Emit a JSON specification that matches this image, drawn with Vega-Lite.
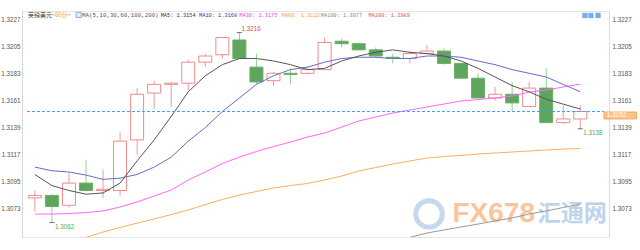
{
  "$schema": "https://vega.github.io/schema/vega-lite/v6.json",
  "width": 587,
  "height": 226,
  "autosize": {"type": "none"},
  "padding": {"left": 22, "top": 11, "right": 31, "bottom": 13},
  "background": "#ffffff",
  "config": {"view": {"stroke": "#e4e4e4"}, "font": "Liberation Sans"},
  "datasets": {
    "candles": [
      {"i": 1, "o": 1.3082, "h": 1.3088, "l": 1.3071, "c": 1.3084, "ma5": 1.3101, "ma10": 1.3107, "ma30": 1.30689, "ma60": null, "ma100": null},
      {"i": 2, "o": 1.3084, "h": 1.3085, "l": 1.3062, "c": 1.3075, "ma5": 1.3092, "ma10": 1.3104, "ma30": 1.30689, "ma60": null, "ma100": null},
      {"i": 3, "o": 1.3076, "h": 1.3102, "l": 1.3074, "c": 1.3094, "ma5": 1.3088, "ma10": 1.3103, "ma30": 1.30693, "ma60": null, "ma100": null},
      {"i": 4, "o": 1.3094, "h": 1.3113, "l": 1.3087, "c": 1.3088, "ma5": 1.3085, "ma10": 1.31005, "ma30": 1.30701, "ma60": 1.3050, "ma100": null},
      {"i": 5, "o": 1.3088, "h": 1.3105, "l": 1.3082, "c": 1.3089, "ma5": 1.3086, "ma10": 1.3097, "ma30": 1.30714, "ma60": 1.30543, "ma100": null},
      {"i": 6, "o": 1.3088, "h": 1.3135, "l": 1.3084, "c": 1.3128, "ma5": 1.3094, "ma10": 1.3098, "ma30": 1.30746, "ma60": 1.3058, "ma100": null},
      {"i": 7, "o": 1.3129, "h": 1.3171, "l": 1.3117, "c": 1.3166, "ma5": 1.3112, "ma10": 1.3101, "ma30": 1.30787, "ma60": 1.30616, "ma100": null},
      {"i": 8, "o": 1.3167, "h": 1.3177, "l": 1.3154, "c": 1.3174, "ma5": 1.3129, "ma10": 1.3107, "ma30": 1.30835, "ma60": 1.30649, "ma100": null},
      {"i": 9, "o": 1.3174, "h": 1.3176, "l": 1.3156, "c": 1.3175, "ma5": 1.3148, "ma10": 1.3115, "ma30": 1.30884, "ma60": 1.30685, "ma100": null},
      {"i": 10, "o": 1.3175, "h": 1.3194, "l": 1.3169, "c": 1.3192, "ma5": 1.3168, "ma10": 1.3128, "ma30": 1.30965, "ma60": 1.30722, "ma100": null},
      {"i": 11, "o": 1.3192, "h": 1.3199, "l": 1.3188, "c": 1.3197, "ma5": 1.3181, "ma10": 1.3139, "ma30": 1.3103, "ma60": 1.30766, "ma100": null},
      {"i": 12, "o": 1.3198, "h": 1.3212, "l": 1.3195, "c": 1.3212, "ma5": 1.3190, "ma10": 1.3152, "ma30": 1.31099, "ma60": 1.30807, "ma100": null},
      {"i": 13, "o": 1.3210, "h": 1.3216, "l": 1.3195, "c": 1.3195, "ma5": 1.3195, "ma10": 1.3163, "ma30": 1.31151, "ma60": 1.30843, "ma100": null},
      {"i": 14, "o": 1.3188, "h": 1.3199, "l": 1.3174, "c": 1.3176, "ma5": 1.3195, "ma10": 1.3174, "ma30": 1.31196, "ma60": 1.30872, "ma100": null},
      {"i": 15, "o": 1.3177, "h": 1.3184, "l": 1.3173, "c": 1.3183, "ma5": 1.3193, "ma10": 1.3181, "ma30": 1.31236, "ma60": 1.309, "ma100": null},
      {"i": 16, "o": 1.3183, "h": 1.3187, "l": 1.3174, "c": 1.3182, "ma5": 1.3190, "ma10": 1.3186, "ma30": 1.31273, "ma60": 1.3092, "ma100": null},
      {"i": 17, "o": 1.3183, "h": 1.3188, "l": 1.3182, "c": 1.3186, "ma5": 1.3186, "ma10": 1.3188, "ma30": 1.31313, "ma60": 1.30937, "ma100": null},
      {"i": 18, "o": 1.3186, "h": 1.3212, "l": 1.3186, "c": 1.3208, "ma5": 1.3187, "ma10": 1.3192, "ma30": 1.31346, "ma60": 1.30965, "ma100": null},
      {"i": 19, "o": 1.3209, "h": 1.3211, "l": 1.3204, "c": 1.3207, "ma5": 1.3193, "ma10": 1.3195, "ma30": 1.31394, "ma60": 1.30997, "ma100": null},
      {"i": 20, "o": 1.3207, "h": 1.3208, "l": 1.3202, "c": 1.3202, "ma5": 1.3197, "ma10": 1.3196, "ma30": 1.31443, "ma60": 1.31038, "ma100": null},
      {"i": 21, "o": 1.3202, "h": 1.3204, "l": 1.3196, "c": 1.3197, "ma5": 1.3200, "ma10": 1.3196, "ma30": 1.31476, "ma60": 1.31066, "ma100": null},
      {"i": 22, "o": 1.3196, "h": 1.3199, "l": 1.3191, "c": 1.3195, "ma5": 1.3202, "ma10": 1.3195, "ma30": 1.31508, "ma60": 1.31095, "ma100": null},
      {"i": 23, "o": 1.3195, "h": 1.3201, "l": 1.3191, "c": 1.3199, "ma5": 1.3200, "ma10": 1.3195, "ma30": 1.31532, "ma60": 1.31119, "ma100": 1.3050},
      {"i": 24, "o": 1.3199, "h": 1.3206, "l": 1.3199, "c": 1.3201, "ma5": 1.3199, "ma10": 1.3197, "ma30": 1.31557, "ma60": 1.31143, "ma100": 1.30535},
      {"i": 25, "o": 1.3201, "h": 1.3203, "l": 1.3190, "c": 1.3191, "ma5": 1.3197, "ma10": 1.3197, "ma30": 1.31581, "ma60": 1.31155, "ma100": 1.3056},
      {"i": 26, "o": 1.3191, "h": 1.3191, "l": 1.3179, "c": 1.3179, "ma5": 1.3193, "ma10": 1.3196, "ma30": 1.31605, "ma60": 1.31164, "ma100": 1.30584},
      {"i": 27, "o": 1.3179, "h": 1.3183, "l": 1.3163, "c": 1.3163, "ma5": 1.3187, "ma10": 1.3193, "ma30": 1.31617, "ma60": 1.31176, "ma100": 1.30608},
      {"i": 28, "o": 1.3163, "h": 1.3172, "l": 1.3161, "c": 1.3166, "ma5": 1.3180, "ma10": 1.3190, "ma30": 1.3163, "ma60": 1.31184, "ma100": 1.30633},
      {"i": 29, "o": 1.3166, "h": 1.3176, "l": 1.3152, "c": 1.3159, "ma5": 1.3173, "ma10": 1.3186, "ma30": 1.31646, "ma60": 1.31192, "ma100": 1.30657},
      {"i": 30, "o": 1.3156, "h": 1.3176, "l": 1.3156, "c": 1.3171, "ma5": 1.3168, "ma10": 1.3183, "ma30": 1.31678, "ma60": 1.312, "ma100": 1.30689},
      {"i": 31, "o": 1.3171, "h": 1.3187, "l": 1.3143, "c": 1.3143, "ma5": 1.3162, "ma10": 1.3180, "ma30": 1.31694, "ma60": 1.31208, "ma100": 1.30714},
      {"i": 32, "o": 1.3143, "h": 1.3157, "l": 1.3142, "c": 1.3146, "ma5": 1.3158, "ma10": 1.3174, "ma30": 1.31719, "ma60": 1.31216, "ma100": 1.30742},
      {"i": 33, "o": 1.3146, "h": 1.3157, "l": 1.3138, "c": 1.3152, "ma5": 1.3154, "ma10": 1.3168, "ma30": 1.31743, "ma60": 1.3122, "ma100": 1.3077}
    ]
  },
  "layer": [
    {
      "data": {"values": [{}]},
      "mark": {"type": "point", "shape": "circle", "size": 700, "filled": false, "strokeWidth": 5, "opacity": 0.8},
      "encoding": {
        "x": {"datum": 24.126, "type": "quantitative", "scale": {"domain": [0.54, 34.39], "nice": false, "zero": false}, "axis": null},
        "y": {"datum": 1.3069, "type": "quantitative", "scale": {"domain": [1.30503, 1.32335], "nice": false, "zero": false}, "axis": null},
        "stroke": {"value": "#b9cfea"}
      }
    },
    {
      "data": {"values": [{}]},
      "mark": {"type": "text", "text": "FX678", "align": "left", "baseline": "middle", "font": "Liberation Sans", "fontWeight": "bold", "fontSize": 28, "opacity": 0.85},
      "encoding": {
        "x": {"datum": 25.5, "type": "quantitative", "scale": {"domain": [0.54, 34.39], "nice": false, "zero": false}, "axis": null},
        "y": {"datum": 1.3069, "type": "quantitative", "scale": {"domain": [1.30503, 1.32335], "nice": false, "zero": false}, "axis": null},
        "fill": {"value": "#f7bb8c"}
      }
    },
    {
      "data": {"values": [{}]},
      "mark": {"type": "text", "text": "汇通网", "align": "left", "baseline": "middle", "font": "Noto Sans CJK SC", "fontWeight": "bold", "fontSize": 23, "opacity": 0.85},
      "encoding": {
        "x": {"datum": 30.5, "type": "quantitative", "scale": {"domain": [0.54, 34.39], "nice": false, "zero": false}, "axis": null},
        "y": {"datum": 1.3069, "type": "quantitative", "scale": {"domain": [1.30503, 1.32335], "nice": false, "zero": false}, "axis": null},
        "fill": {"value": "#b3cdea"}
      }
    },
    {
      "data": {"name": "candles"},
      "mark": {"type": "rule", "strokeWidth": 1},
      "encoding": {
        "x": {"field": "i", "type": "quantitative", "scale": {"domain": [0.54, 34.39], "nice": false, "zero": false}, "axis": null},
        "y": {"field": "l", "type": "quantitative", "scale": {"domain": [1.30503, 1.32335], "nice": false, "zero": false},
          "axis": {"orient": "left", "title": null, "values": [1.3073, 1.3095, 1.3117, 1.3139, 1.3161, 1.3183, 1.3205, 1.3227], "format": ".4f", "ticks": false, "grid": false, "labelFont": "Liberation Sans", "labelFontSize": 6.3, "labelColor": "#555555", "labelPadding": 2, "domainColor": "#cccccc", "domainDash": [2, 2]}},
        "y2": {"field": "h"},
        "stroke": {"condition": {"test": "datum.c >= datum.o", "value": "#f09a9a"}, "value": "#95cf95"}
      }
    },
    {
      "data": {"name": "candles"},
      "mark": {"type": "bar", "width": 13, "orient": "vertical", "strokeWidth": 1},
      "encoding": {
        "x": {"field": "i", "type": "quantitative", "scale": {"domain": [0.54, 34.39], "nice": false, "zero": false}, "axis": null},
        "y": {"field": "o", "type": "quantitative", "scale": {"domain": [1.30503, 1.32335], "nice": false, "zero": false},
          "axis": {"orient": "right", "title": null, "values": [1.3073, 1.3095, 1.3117, 1.3139, 1.3161, 1.3183, 1.3205, 1.3227], "format": ".4f", "ticks": false, "grid": false, "labelFont": "Liberation Sans", "labelFontSize": 6.3, "labelColor": "#555555", "labelPadding": 3, "domainColor": "#dddddd"}},
        "y2": {"field": "c"},
        "fill": {"condition": {"test": "datum.c >= datum.o", "value": "#ffffff"}, "value": "#5ea65e"},
        "stroke": {"condition": {"test": "datum.c >= datum.o", "value": "#ee8a8a"}, "value": "#68b068"}
      }
    },
    {
      "data": {"name": "candles"},
      "mark": {"type": "line", "strokeWidth": 1, "clip": true},
      "encoding": {
        "x": {"field": "i", "type": "quantitative", "scale": {"domain": [0.54, 34.39], "nice": false, "zero": false}, "axis": null},
        "y": {"field": "ma60", "type": "quantitative", "scale": {"domain": [1.30503, 1.32335], "nice": false, "zero": false}, "axis": null},
        "stroke": {"value": "#ffad60"}
      }
    },
    {
      "data": {"name": "candles"},
      "mark": {"type": "line", "strokeWidth": 1, "clip": true},
      "encoding": {
        "x": {"field": "i", "type": "quantitative", "scale": {"domain": [0.54, 34.39], "nice": false, "zero": false}, "axis": null},
        "y": {"field": "ma100", "type": "quantitative", "scale": {"domain": [1.30503, 1.32335], "nice": false, "zero": false}, "axis": null},
        "stroke": {"value": "#999999"}
      }
    },
    {
      "data": {"name": "candles"},
      "mark": {"type": "line", "strokeWidth": 1, "clip": true},
      "encoding": {
        "x": {"field": "i", "type": "quantitative", "scale": {"domain": [0.54, 34.39], "nice": false, "zero": false}, "axis": null},
        "y": {"field": "ma30", "type": "quantitative", "scale": {"domain": [1.30503, 1.32335], "nice": false, "zero": false}, "axis": null},
        "stroke": {"value": "#ff66ff"}
      }
    },
    {
      "data": {"name": "candles"},
      "mark": {"type": "line", "strokeWidth": 1, "clip": true},
      "encoding": {
        "x": {"field": "i", "type": "quantitative", "scale": {"domain": [0.54, 34.39], "nice": false, "zero": false}, "axis": null},
        "y": {"field": "ma10", "type": "quantitative", "scale": {"domain": [1.30503, 1.32335], "nice": false, "zero": false}, "axis": null},
        "stroke": {"value": "#6a6ac8"}
      }
    },
    {
      "data": {"name": "candles"},
      "mark": {"type": "line", "strokeWidth": 1, "clip": true},
      "encoding": {
        "x": {"field": "i", "type": "quantitative", "scale": {"domain": [0.54, 34.39], "nice": false, "zero": false}, "axis": null},
        "y": {"field": "ma5", "type": "quantitative", "scale": {"domain": [1.30503, 1.32335], "nice": false, "zero": false}, "axis": null},
        "stroke": {"value": "#555555"}
      }
    },
    {
      "data": {"values": [{}]},
      "mark": {"type": "rule", "strokeWidth": 1, "strokeDash": [3, 2]},
      "encoding": {
        "x": {"datum": 0.54, "type": "quantitative", "scale": {"domain": [0.54, 34.39], "nice": false, "zero": false}, "axis": null},
        "x2": {"datum": 34.39},
        "y": {"datum": 1.3152, "type": "quantitative", "scale": {"domain": [1.30503, 1.32335], "nice": false, "zero": false}, "axis": null},
        "stroke": {"value": "#3d9cff"}
      }
    },
    {
      "data": {"values": [{}]},
      "mark": {"type": "rect", "strokeWidth": 1},
      "encoding": {
        "x": {"datum": 34.39, "type": "quantitative", "scale": {"domain": [0.54, 34.39], "nice": false, "zero": false}, "axis": null},
        "x2": {"datum": 36.3},
        "y": {"datum": 1.31516, "type": "quantitative", "scale": {"domain": [1.30503, 1.32335], "nice": false, "zero": false}, "axis": null},
        "y2": {"datum": 1.3146},
        "fill": {"value": "#fcc38a"},
        "stroke": {"value": "#f6a85c"}
      }
    },
    {
      "data": {"values": [{}]},
      "mark": {"type": "text", "text": "1.3152", "align": "left", "baseline": "middle", "fontSize": 6.3},
      "encoding": {
        "x": {"datum": 34.56, "type": "quantitative", "scale": {"domain": [0.54, 34.39], "nice": false, "zero": false}, "axis": null},
        "y": {"datum": 1.31488, "type": "quantitative", "scale": {"domain": [1.30503, 1.32335], "nice": false, "zero": false}, "axis": null},
        "fill": {"value": "#ffffff"}
      }
    },
    {
      "data": {"values": [{"i": 13, "v": 1.3216, "t": "1.3216"}]},
      "encoding": {
        "x": {"field": "i", "type": "quantitative", "scale": {"domain": [0.54, 34.39], "nice": false, "zero": false}, "axis": null},
        "y": {"field": "v", "type": "quantitative", "scale": {"domain": [1.30503, 1.32335], "nice": false, "zero": false}, "axis": null}
      },
      "layer": [
        {"mark": {"type": "tick", "orient": "horizontal", "size": 5, "thickness": 1}, "encoding": {"color": {"value": "#333333"}}},
        {"mark": {"type": "text", "align": "left", "baseline": "middle", "dx": 2, "dy": -4, "fontSize": 6.3}, "encoding": {"text": {"field": "t"}, "fill": {"value": "#e05050"}}}
      ]
    },
    {
      "data": {"values": [{"i": 2, "v": 1.3062, "t": "1.3062"}, {"i": 33, "v": 1.3138, "t": "1.3138"}]},
      "encoding": {
        "x": {"field": "i", "type": "quantitative", "scale": {"domain": [0.54, 34.39], "nice": false, "zero": false}, "axis": null},
        "y": {"field": "v", "type": "quantitative", "scale": {"domain": [1.30503, 1.32335], "nice": false, "zero": false}, "axis": null}
      },
      "layer": [
        {"mark": {"type": "tick", "orient": "horizontal", "size": 5, "thickness": 1}, "encoding": {"color": {"value": "#333333"}}},
        {"mark": {"type": "text", "align": "left", "baseline": "middle", "dx": 3, "dy": 4.5, "fontSize": 6.3}, "encoding": {"text": {"field": "t"}, "fill": {"value": "#55aa55"}}}
      ]
    },
    {
      "data": {"values": [{}]},
      "mark": {"type": "text", "text": "英镑美元", "align": "left", "baseline": "middle", "font": "Noto Sans CJK SC", "fontSize": 6},
      "encoding": {"x": {"datum": 0.598, "type": "quantitative", "scale": {"domain": [0.54, 34.39], "nice": false, "zero": false}, "axis": null}, "y": {"datum": 1.32303, "type": "quantitative", "scale": {"domain": [1.30503, 1.32335], "nice": false, "zero": false}, "axis": null}, "fill": {"value": "#333333"}}
    },
    {
      "data": {"values": [{}]},
      "mark": {"type": "text", "text": "<60分>", "align": "left", "baseline": "middle", "font": "Noto Sans CJK SC", "fontSize": 6},
      "encoding": {"x": {"datum": 1.98, "type": "quantitative", "scale": {"domain": [0.54, 34.39], "nice": false, "zero": false}, "axis": null}, "y": {"datum": 1.32303, "type": "quantitative", "scale": {"domain": [1.30503, 1.32335], "nice": false, "zero": false}, "axis": null}, "fill": {"value": "#f0a030"}}
    },
    {
      "data": {"values": [{}]},
      "mark": {"type": "point", "shape": "square", "size": 26, "filled": true, "strokeWidth": 0.8},
      "encoding": {"x": {"datum": 3.568, "type": "quantitative", "scale": {"domain": [0.54, 34.39], "nice": false, "zero": false}, "axis": null}, "y": {"datum": 1.32303, "type": "quantitative", "scale": {"domain": [1.30503, 1.32335], "nice": false, "zero": false}, "axis": null}, "fill": {"value": "#dfe6ff"}, "stroke": {"value": "#4466cc"}}
    },
    {
      "data": {"values": [{}]},
      "mark": {"type": "text", "text": "MA(5,10,30,60,100,200)", "align": "left", "baseline": "middle", "font": "Liberation Mono", "fontSize": 5.8},
      "encoding": {"x": {"datum": 3.77, "type": "quantitative", "scale": {"domain": [0.54, 34.39], "nice": false, "zero": false}, "axis": null}, "y": {"datum": 1.32303, "type": "quantitative", "scale": {"domain": [1.30503, 1.32335], "nice": false, "zero": false}, "axis": null}, "fill": {"value": "#555555"}}
    },
    {
      "data": {"values": [{}]},
      "mark": {"type": "text", "text": "MA5: 1.3154", "align": "left", "baseline": "middle", "font": "Liberation Mono", "fontSize": 5.3},
      "encoding": {"x": {"datum": 8.383, "type": "quantitative", "scale": {"domain": [0.54, 34.39], "nice": false, "zero": false}, "axis": null}, "y": {"datum": 1.32303, "type": "quantitative", "scale": {"domain": [1.30503, 1.32335], "nice": false, "zero": false}, "axis": null}, "fill": {"value": "#333333"}}
    },
    {
      "data": {"values": [{}]},
      "mark": {"type": "text", "text": "MA10: 1.3168", "align": "left", "baseline": "middle", "font": "Liberation Mono", "fontSize": 5.3},
      "encoding": {"x": {"datum": 10.632, "type": "quantitative", "scale": {"domain": [0.54, 34.39], "nice": false, "zero": false}, "axis": null}, "y": {"datum": 1.32303, "type": "quantitative", "scale": {"domain": [1.30503, 1.32335], "nice": false, "zero": false}, "axis": null}, "fill": {"value": "#3333aa"}}
    },
    {
      "data": {"values": [{}]},
      "mark": {"type": "text", "text": "MA30: 1.3175", "align": "left", "baseline": "middle", "font": "Liberation Mono", "fontSize": 5.3},
      "encoding": {"x": {"datum": 12.996, "type": "quantitative", "scale": {"domain": [0.54, 34.39], "nice": false, "zero": false}, "axis": null}, "y": {"datum": 1.32303, "type": "quantitative", "scale": {"domain": [1.30503, 1.32335], "nice": false, "zero": false}, "axis": null}, "fill": {"value": "#ee44ee"}}
    },
    {
      "data": {"values": [{}]},
      "mark": {"type": "text", "text": "MA60: 1.3122", "align": "left", "baseline": "middle", "font": "Liberation Mono", "fontSize": 5.3},
      "encoding": {"x": {"datum": 15.476, "type": "quantitative", "scale": {"domain": [0.54, 34.39], "nice": false, "zero": false}, "axis": null}, "y": {"datum": 1.32303, "type": "quantitative", "scale": {"domain": [1.30503, 1.32335], "nice": false, "zero": false}, "axis": null}, "fill": {"value": "#ff9933"}}
    },
    {
      "data": {"values": [{}]},
      "mark": {"type": "text", "text": "MA100: 1.3077", "align": "left", "baseline": "middle", "font": "Liberation Mono", "fontSize": 5.3},
      "encoding": {"x": {"datum": 17.78, "type": "quantitative", "scale": {"domain": [0.54, 34.39], "nice": false, "zero": false}, "axis": null}, "y": {"datum": 1.32303, "type": "quantitative", "scale": {"domain": [1.30503, 1.32335], "nice": false, "zero": false}, "axis": null}, "fill": {"value": "#888888"}}
    },
    {
      "data": {"values": [{}]},
      "mark": {"type": "text", "text": "MA200: 1.2989", "align": "left", "baseline": "middle", "font": "Liberation Mono", "fontSize": 5.3},
      "encoding": {"x": {"datum": 20.58, "type": "quantitative", "scale": {"domain": [0.54, 34.39], "nice": false, "zero": false}, "axis": null}, "y": {"datum": 1.32303, "type": "quantitative", "scale": {"domain": [1.30503, 1.32335], "nice": false, "zero": false}, "axis": null}, "fill": {"value": "#e05555"}}
    },
    {
      "data": {"values": [{}]},
      "mark": {"type": "point", "shape": "square", "size": 28, "filled": true},
      "encoding": {"x": {"datum": 33.27, "type": "quantitative", "scale": {"domain": [0.54, 34.39], "nice": false, "zero": false}, "axis": null}, "y": {"datum": 1.32299, "type": "quantitative", "scale": {"domain": [1.30503, 1.32335], "nice": false, "zero": false}, "axis": null}, "fill": {"value": "#3d8fe0"}}
    },
    {
      "data": {"values": [{}]},
      "mark": {"type": "point", "shape": "square", "size": 28, "filled": true},
      "encoding": {"x": {"datum": 33.62, "type": "quantitative", "scale": {"domain": [0.54, 34.39], "nice": false, "zero": false}, "axis": null}, "y": {"datum": 1.32299, "type": "quantitative", "scale": {"domain": [1.30503, 1.32335], "nice": false, "zero": false}, "axis": null}, "fill": {"value": "#3d8fe0"}}
    },
    {
      "data": {"values": [{}]},
      "mark": {"type": "point", "shape": "square", "size": 28, "filled": true},
      "encoding": {"x": {"datum": 34.04, "type": "quantitative", "scale": {"domain": [0.54, 34.39], "nice": false, "zero": false}, "axis": null}, "y": {"datum": 1.32299, "type": "quantitative", "scale": {"domain": [1.30503, 1.32335], "nice": false, "zero": false}, "axis": null}, "fill": {"value": "#3d8fe0"}}
    }
  ],
  "resolve": {"scale": {"y": "independent"}}
}
